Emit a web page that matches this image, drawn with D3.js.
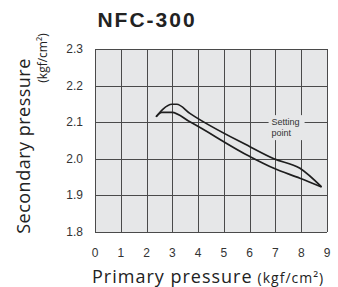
<!DOCTYPE html>
<meta charset="utf-8">
<style>
  body { margin: 0; background: #fff; }
  .grid line { stroke: #4a4a4a; stroke-width: 1; }
  .tick-label { font-family: "Liberation Sans", Arial, sans-serif; font-size: 12px; fill: #333; }
  .curve { fill: none; stroke: #1e1e1e; stroke-width: 1.7; stroke-linejoin: round; }
</style>
<body></body>
<script src="https://d3js.org/d3.v7.min.js"></script>
<script>

// chart values
var title = "NFC-300";
var xTicks = [0, 1, 2, 3, 4, 5, 6, 7, 8, 9];
var yTicks = [1.8, 1.9, 2.0, 2.1, 2.2, 2.3];

// upper branch of the hysteresis loop
var upperX = [2.37, 2.64, 2.98, 3.17, 3.68, 6.01, 6.94, 7.95, 8.79];
var upperY = [2.115, 2.136, 2.149, 2.149, 2.124, 2.033, 2.000, 1.974, 1.923];
// lower branch
var lowerX = [2.37, 2.59, 2.98, 3.68, 6.01, 6.94, 7.95, 8.79];
var lowerY = [2.115, 2.127, 2.127, 2.101, 2.006, 1.974, 1.947, 1.923];

var note = ["Setting", "point"];
var noteAt = [6.85, 2.092];

var margin = {top: 49, right: 11, bottom: 55, left: 95},
    width = 338 - margin.left - margin.right,
    height = 287 - margin.top - margin.bottom;

var x = d3.scaleLinear().domain([0, 9]).range([0, width]);
var y = d3.scaleLinear().domain([1.8, 2.3]).range([height, 0]);

var svg = d3.select("body").append("svg")
    .attr("width", 338)
    .attr("height", 287);

var g = svg.append("g")
    .attr("transform", "translate(" + margin.left + "," + margin.top + ")");

// plot background
g.append("rect")
    .attr("width", width)
    .attr("height", height)
    .attr("fill", "#e6e7e8");

// grid
var grid = g.append("g").attr("class", "grid");
grid.selectAll(".vx").data(xTicks).enter().append("line")
    .attr("x1", function(d) { return Math.round(x(d)) + 0.5; })
    .attr("x2", function(d) { return Math.round(x(d)) + 0.5; })
    .attr("y1", 0).attr("y2", height);
grid.selectAll(".hy").data(yTicks).enter().append("line")
    .attr("y1", function(d) { return Math.round(y(d)) + 0.5; })
    .attr("y2", function(d) { return Math.round(y(d)) + 0.5; })
    .attr("x1", 0).attr("x2", width);

// note box hides the gridlines behind the text
var nx = x(noteAt[0]), ny = y(noteAt[1]);
g.append("rect")
    .attr("x", nx - 3)
    .attr("y", ny - 10)
    .attr("width", 36)
    .attr("height", 25)
    .attr("fill", "#e6e7e8");
g.append("text")
    .attr("class", "tick-label")
    .attr("x", nx)
    .attr("y", ny)
    .style("font-size", "9px")
    .selectAll("tspan").data(note).enter().append("tspan")
    .attr("x", nx)
    .attr("dy", function(d, i) { return i ? 11 : 0; })
    .text(function(d) { return d; });

// curves
var line = d3.line()
    .x(function(d) { return x(d[0]); })
    .y(function(d) { return y(d[1]); })
    .curve(d3.curveMonotoneX);

g.append("path").attr("class", "curve")
    .attr("d", line(d3.zip(upperX, upperY)));
g.append("path").attr("class", "curve")
    .attr("d", line(d3.zip(lowerX, lowerY)));

// tick labels
g.selectAll(".xl").data(xTicks).enter().append("text")
    .attr("class", "tick-label")
    .attr("x", function(d) { return x(d); })
    .attr("y", height + 25)
    .attr("text-anchor", "middle")
    .text(function(d) { return d; });

g.selectAll(".yl").data(yTicks).enter().append("text")
    .attr("class", "tick-label")
    .attr("x", -12)
    .attr("y", function(d) { return y(d) + 4; })
    .attr("text-anchor", "end")
    .text(d3.format(".1f"));

// title
svg.append("text")
    .attr("x", 147)
    .attr("y", 27)
    .attr("text-anchor", "middle")
    .style("font-family", "'Liberation Sans', Arial, sans-serif")
    .style("font-weight", "bold")
    .style("font-size", "21px")
    .style("letter-spacing", "2px")
    .attr("fill", "#222")
    .text(title);

// x axis title
var xt = svg.append("text")
    .attr("x", 92)
    .attr("y", 283)
    .style("font-family", "'Open Sans', sans-serif")
    .attr("fill", "#222");
xt.append("tspan").style("font-size", "18px").style("letter-spacing", "1px").text("Primary pressure");
xt.append("tspan").style("font-size", "14px").style("letter-spacing", "1px").attr("dx", 5).text("(kgf/cm²)");

// y axis title
svg.append("text")
    .attr("transform", "translate(30,146) rotate(-90)")
    .attr("text-anchor", "middle")
    .style("font-family", "'Open Sans', sans-serif")
    .style("font-size", "18px")
    .style("letter-spacing", "0.5px")
    .attr("fill", "#222")
    .text("Secondary pressure");
svg.append("text")
    .attr("transform", "translate(47,58) rotate(-90)")
    .attr("text-anchor", "middle")
    .style("font-family", "'Open Sans', sans-serif")
    .style("font-size", "12px")
    .attr("fill", "#222")
    .text("(kgf/cm²)");

</script>
